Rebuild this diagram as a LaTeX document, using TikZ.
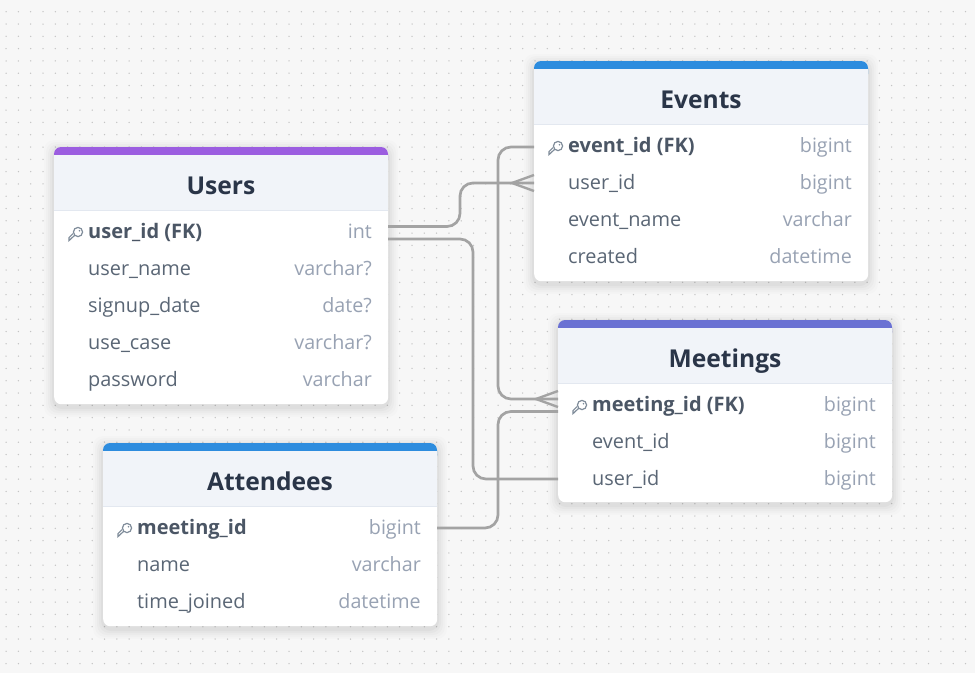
\documentclass[tikz,border=0pt]{standalone}
\usepackage{fontspec}
\setmainfont{Open Sans}
\usetikzlibrary{calc}
\definecolor{pagebg}{HTML}{F7F7F7}
\definecolor{griddot}{HTML}{C4C4C4}
\definecolor{headbg}{HTML}{F1F4F9}
\definecolor{headline}{HTML}{E3E8F0}
\definecolor{titleink}{HTML}{2A3548}
\definecolor{nameink}{HTML}{5A6675}
\definecolor{keyink}{HTML}{4B5665}
\definecolor{typeink}{HTML}{98A2B3}
\definecolor{keyicon}{HTML}{7F8C9A}
\definecolor{wire}{HTML}{A3A3A3}
\definecolor{barpurple}{HTML}{9B5DE0}
\definecolor{barblue}{HTML}{2D8CDE}
\definecolor{barindigo}{HTML}{6A71D3}
\tikzset{
  x=1pt,y=-1pt,
  card/.style={fill=white,rounded corners=7pt,inner sep=0pt,minimum width=334pt,anchor=north west},
  titletext/.style={font=\fontsize{24.6}{29}\selectfont\bfseries,text=titleink,inner sep=0pt,anchor=base},
  nametext/.style={font=\fontsize{19.9}{24}\selectfont,text=nameink,inner sep=0pt,anchor=base west},
  keytext/.style={font=\fontsize{20}{24}\selectfont\bfseries,text=keyink,inner sep=0pt,anchor=base west},
  typetext/.style={font=\fontsize{19.7}{24}\selectfont,text=typeink,inner sep=0pt,anchor=base east},
  wireline/.style={draw=wire,line width=2.7pt,rounded corners=13pt},
  crow/.style={draw=wire,line width=2.4pt},
}
% #1 id, #2 title, #3 x, #4 y, #5 height, #6 bar colour
\newcommand{\erdcard}[6]{%
  \foreach \s/\o in {10/0.012,8/0.015,6/0.018,4/0.022,2/0.028}{
    \fill[black,opacity=\o,rounded corners=10pt] (#3-\s,#4+3-\s) rectangle (#3+334+\s,#4+#5+3+\s);
  }
  \node[card,minimum height=#5pt] (#1) at (#3,#4) {};
  \fill[#6,rounded corners=7pt] (#3,#4) rectangle (#3+334,#4+20);
  \fill[headbg] (#3,#4+8) rectangle (#3+334,#4+63);
  \draw[headline,line width=1.4pt] (#3,#4+63.5) -- (#3+334,#4+63.5);
  \node[titletext] (#1title) at (#3+167,#4+47) {#2};
}
% #1 id, #2 card x, #3 row y centre, #4 name, #5 type, #6 style
\newcommand{\erdrow}[6]{%
  \node[#6] (#1name) at (#2+34,#3+7.6) {#4};
  \node[typetext] (#1type) at (#2+318,#3+7.6) {#5};
}
\newcommand{\erdkey}[2]{%
  \begin{scope}[keyicon,line width=1.2pt]
    \draw (#1+24,#2+1) circle[radius=4.6pt];
    \fill (#1+25.5,#2-0.3) circle[radius=0.9pt];
    \draw (#1+20.8,#2+4.2) -- (#1+15,#2+9.6) -- (#1+15,#2+6.6) -- (#1+19,#2+2.6);
  \end{scope}
}
\begin{document}
\begin{tikzpicture}
\useasboundingbox (0,0) rectangle (975,673);
\fill[pagebg] (0,0) rectangle (975,673);
\foreach \i in {0,...,79}{
  \foreach \j in {0,...,54}{
    \fill[griddot] (6.1+12.3*\i,11.7+12.3*\j) circle[radius=0.75pt];
  }
}
% cards
\erdcard{users}{Users}{54}{147}{257}{barpurple}
\erdcard{events}{Events}{534}{61}{220}{barblue}
\erdcard{meetings}{Meetings}{558}{320}{182}{barindigo}
\erdcard{attendees}{Attendees}{103}{443}{183}{barblue}
% ports
\coordinate (usersA) at (388,226.5);
\coordinate (usersB) at (388,239);
\coordinate (eventsA) at (534,183);
\coordinate (eventsB) at (534,147);
\coordinate (meetA) at (558,399);
\coordinate (meetB) at (558,411.5);
\coordinate (meetC) at (558,479);
\coordinate (attA) at (437,528);
% connectors
\draw[wireline] (usersA) -- (460,226.5) -- (460,183) -- (eventsA);
\draw[wireline] (usersB) -- (473,239) -- (473,479) -- (meetC);
\draw[wireline] (eventsB) -- (498,147) -- (498,399) -- (meetA);
\draw[wireline] (attA) -- (498,528) -- (498,411.5) -- (meetB);
\draw[crow] (534,175) -- (512,183) -- (534,191);
\draw[crow] (558,391) -- (536,399) -- (558,407);
% rows
\erdrow{ua}{54}{231}{user\_id (FK)}{int}{keytext}
\erdkey{54}{231}
\erdrow{ub}{54}{268}{user\_name}{varchar?}{nametext}
\erdrow{uc}{54}{305}{signup\_date}{date?}{nametext}
\erdrow{ud}{54}{342}{use\_case}{varchar?}{nametext}
\erdrow{ue}{54}{379}{password}{varchar}{nametext}
\erdrow{ea}{534}{145}{event\_id (FK)}{bigint}{keytext}
\erdkey{534}{145}
\erdrow{eb}{534}{182}{user\_id}{bigint}{nametext}
\erdrow{ec}{534}{219}{event\_name}{varchar}{nametext}
\erdrow{ed}{534}{256}{created}{datetime}{nametext}
\erdrow{ma}{558}{404}{meeting\_id (FK)}{bigint}{keytext}
\erdkey{558}{404}
\erdrow{mb}{558}{441}{event\_id}{bigint}{nametext}
\erdrow{mc}{558}{478}{user\_id}{bigint}{nametext}
\erdrow{aa}{103}{527}{meeting\_id}{bigint}{keytext}
\erdkey{103}{527}
\erdrow{ab}{103}{564}{name}{varchar}{nametext}
\erdrow{ac}{103}{601}{time\_joined}{datetime}{nametext}
\end{tikzpicture}
\end{document}
